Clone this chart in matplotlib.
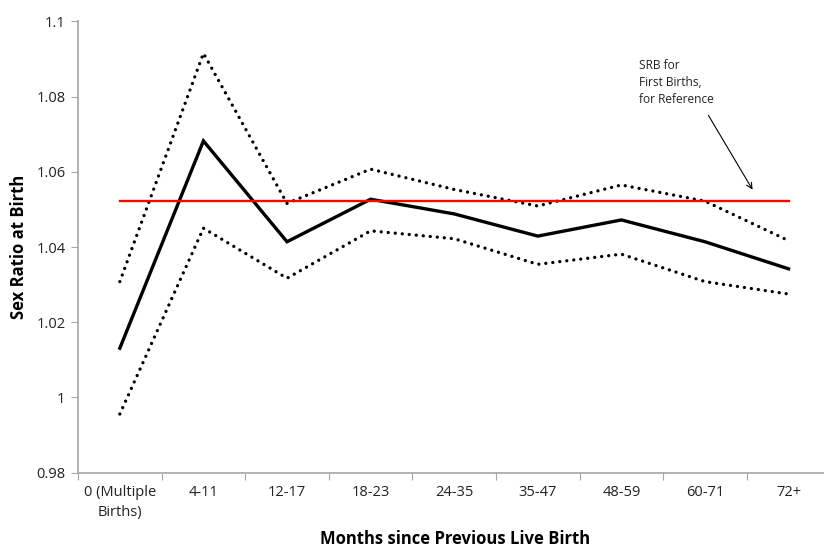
import numpy as np
import matplotlib
matplotlib.use('Agg')
import matplotlib.pyplot as plt

plt.rcParams['font.family'] = ['Open Sans', 'DejaVu Sans']

categories = ['0 (Multiple\nBirths)', '4-11', '12-17', '18-23', '24-35',
              '35-47', '48-59', '60-71', '72+']
srb = [1.0131, 1.0682, 1.0414, 1.0527, 1.0488, 1.0429, 1.0472, 1.0414, 1.0342]
upper = [1.0308, 1.0915, 1.0516, 1.0607, 1.0553, 1.0509, 1.0565, 1.0522, 1.0417]
lower = [0.9956, 1.0450, 1.0317, 1.0443, 1.0422, 1.0354, 1.0381, 1.0308, 1.0275]
first_birth_srb = 1.0521

fig = plt.figure(figsize=(8.24, 5.51), dpi=100)
ax = fig.add_axes([0.0947, 0.1421, 0.913, 0.8192])

x = np.arange(len(categories))
ax.plot(x, upper, color='black', lw=2.4, linestyle=(0, (0.01, 2.1)),
        dash_capstyle='round')
ax.plot(x, lower, color='black', lw=2.4, linestyle=(0, (0.01, 2.1)),
        dash_capstyle='round')
ax.plot(x, srb, color='black', lw=2.4, solid_joinstyle='miter')
ax.plot(x, [first_birth_srb] * len(x), color='#ff0000', lw=1.7)

ax.set_xlim(-0.5, len(categories) - 0.5)
ax.set_ylim(0.98, 1.1)
ax.set_yticks(np.arange(0.98, 1.1001, 0.02))
ax.set_yticklabels(['0.98', '1', '1.02', '1.04', '1.06', '1.08', '1.1'])

# ticks between categories, labels at the centres
ax.set_xticks(np.arange(-0.5, len(categories), 1.0))
ax.set_xticklabels([])
ax.set_xticks(x, minor=True)
ax.set_xticklabels(categories, minor=True, linespacing=1.45)
ax.tick_params(axis='x', which='minor', length=0, pad=9, labelsize=10.5,
               colors='#222222')
ax.tick_params(axis='x', which='major', length=5, color='#a6a6a6')
ax.tick_params(axis='y', length=5, color='#a6a6a6', labelsize=10.5,
               labelcolor='#222222', pad=4)

for s in ['top', 'right']:
    ax.spines[s].set_visible(False)
for s in ['left', 'bottom']:
    ax.spines[s].set_color('#a6a6a6')
    ax.spines[s].set_linewidth(1.2)

ax.set_ylabel('Sex Ratio at Birth', fontsize=12, fontweight='bold', labelpad=6)
fig.text(0.552, 0.005, 'Months since Previous Live Birth', fontsize=12,
         fontweight='bold', ha='center', va='bottom')

fig.text(0.775, 0.893, 'SRB for\nFirst Births,\nfor Reference', fontsize=8.6,
         ha='left', va='top', color='#222222', linespacing=1.4)
ax.annotate('', xy=(0.915, 0.6515), xycoords='figure fraction',
            xytext=(0.858, 0.795), textcoords='figure fraction',
            arrowprops=dict(arrowstyle='->', lw=0.8, color='black'))

fig.savefig('out.png', dpi=100)
